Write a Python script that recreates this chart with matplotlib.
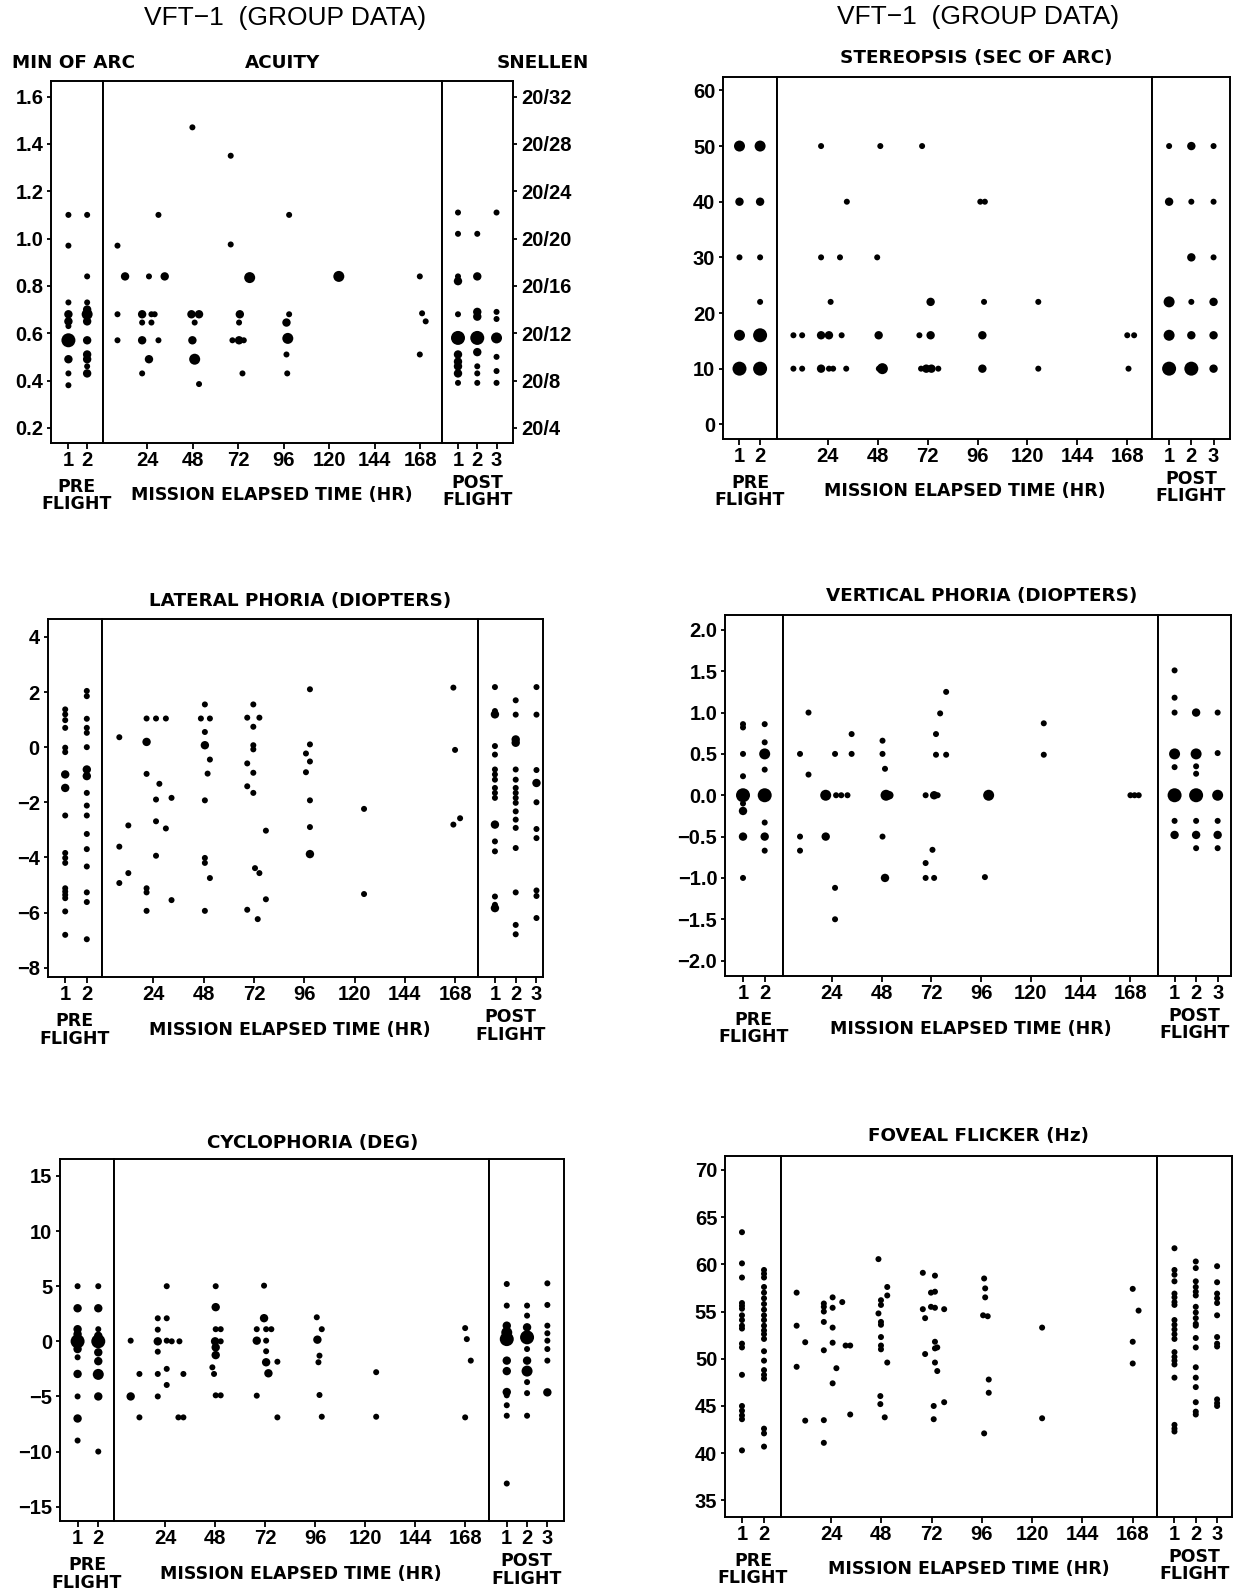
import matplotlib
matplotlib.use("Agg")
import matplotlib.pyplot as plt
from matplotlib import font_manager

# points are (position, value) or (position, value, count); count sets the dot size
# pre/post positions are session numbers, mission positions are elapsed hours

acuity_pre = [
    (1, 1.10), (1, 0.97), (1, 0.73), (1, 0.68, 2), (1, 0.65, 2), (1, 0.63), (1, 0.57, 4),
    (1, 0.49, 2), (1, 0.43), (1, 0.38),
    (2, 1.10), (2, 0.84), (2, 0.73), (2, 0.70, 2), (2, 0.68, 3), (2, 0.65, 2), (2, 0.57, 2),
    (2, 0.51, 2), (2, 0.49, 2), (2, 0.46), (2, 0.43, 2)]
acuity_mission = [
    (8.4, 0.97), (8.4, 0.68), (8.4, 0.57), (12.4, 0.84, 2),
    (21.4, 0.68, 2), (21.4, 0.645), (21.4, 0.57, 2), (21.4, 0.43), (25.0, 0.84), (25.0, 0.49, 2),
    (26.3, 0.68), (26.3, 0.645), (28.0, 0.68), (30.0, 1.10), (30.0, 0.57), (33.3, 0.84, 2),
    (47.9, 1.47), (47.4, 0.68, 2), (51.4, 0.68, 2), (49.1, 0.645), (47.9, 0.57, 2), (49.1, 0.49, 3),
    (51.4, 0.385),
    (68.1, 1.35), (68.1, 0.975), (72.9, 0.68, 2), (72.5, 0.645), (69.0, 0.57), (72.5, 0.57, 2),
    (75.0, 0.57), (74.3, 0.43), (78.1, 0.835, 3),
    (98.9, 1.10), (98.9, 0.68), (97.5, 0.645, 2), (98.2, 0.578, 3), (97.5, 0.51), (97.9, 0.43),
    (125.1, 0.84, 3),
    (167.8, 0.84), (167.8, 0.51), (169.0, 0.684), (170.9, 0.65)]
acuity_post = [
    (1, 1.11), (1, 1.02), (1, 0.84), (1, 0.82, 2), (1, 0.68), (1, 0.58, 4), (1, 0.51, 2),
    (1, 0.48, 2), (1, 0.46, 2), (1, 0.43, 2), (1, 0.39),
    (2, 1.02), (2, 0.84, 2), (2, 0.69, 2), (2, 0.67, 2), (2, 0.58, 4), (2, 0.52, 2), (2, 0.46),
    (2, 0.43), (2, 0.39),
    (3, 1.11), (3, 0.69), (3, 0.66), (3, 0.58, 3), (3, 0.50), (3, 0.44), (3, 0.39)]

stereo_pre = [
    (1, 50, 3), (1, 40, 2), (1, 30), (1, 16, 3), (1, 10, 4),
    (2, 50, 3), (2, 40, 2), (2, 30), (2, 22), (2, 16, 4), (2, 10, 4)]
stereo_mission = [
    (7.4, 16), (7.4, 10), (11.6, 16), (11.6, 10),
    (20.7, 50), (20.7, 30), (20.7, 16, 2), (20.7, 10, 2), (24.5, 16, 2), (25.3, 22), (24.5, 10),
    (26.5, 10), (29.8, 30), (33.1, 40), (30.6, 16), (32.8, 10),
    (47.7, 30), (48.4, 16, 2), (49.2, 50), (50.2, 10, 3), (48.5, 10),
    (68.0, 16), (69.3, 50), (73.4, 22, 2), (73.4, 16, 2), (68.8, 10), (71.3, 10, 2), (73.8, 10, 2),
    (77.1, 10),
    (97.3, 40), (99.5, 40), (99.1, 22), (98.3, 16, 2), (98.3, 10, 2),
    (125.2, 22), (125.2, 10),
    (168.0, 16), (171.3, 16), (168.6, 10)]
stereo_post = [
    (1, 50), (1, 40, 2), (1, 22, 3), (1, 16, 3), (1, 10, 4),
    (2, 50, 2), (2, 40), (2, 30, 2), (2, 22), (2, 16, 2), (2, 10, 4),
    (3, 50), (3, 40), (3, 30), (3, 22, 2), (3, 16, 2), (3, 10, 2)]

lateral_pre = [
    (1, 1.37), (1, 1.19), (1, 0.98), (1, 0.70), (1, -0.02), (1, -0.18), (1, -0.99, 2),
    (1, -1.48, 2), (1, -2.48), (1, -3.84), (1, -4.02), (1, -4.20), (1, -5.12), (1, -5.24),
    (1, -5.36), (1, -5.48), (1, -5.96), (1, -6.81),
    (2, 2.04), (2, 1.85), (2, 1.03), (2, 0.70), (2, 0.52), (2, 0.00), (2, -0.81, 2),
    (2, -1.05, 2), (2, -1.66), (2, -2.12), (2, -2.48), (2, -3.15), (2, -3.70), (2, -4.33),
    (2, -5.27), (2, -5.62), (2, -6.97)]
lateral_mission = [
    (7.8, 0.36), (7.8, -3.61), (7.8, -4.93), (12.1, -2.84), (12.1, -4.57),
    (20.8, 1.04), (20.8, 0.19, 2), (20.8, -0.97), (20.8, -5.12), (20.8, -5.27), (20.8, -5.94),
    (25.3, 1.04), (25.3, -1.90), (25.3, -2.69), (25.3, -3.94), (26.9, -1.33), (30.0, 1.04),
    (30.0, -2.95), (32.7, -1.84), (32.7, -5.55),
    (48.6, 1.55), (48.6, 0.55), (48.6, 0.07, 2), (48.6, -1.93), (48.6, -4.02), (48.6, -4.20),
    (48.6, -5.94), (46.7, 1.04), (51.0, 1.04), (51.0, -0.45), (51.0, -4.75), (49.9, -0.96),
    (71.7, 1.55), (71.7, 0.74), (71.7, 0.07), (71.7, -0.08), (71.7, -0.93), (71.7, -1.66),
    (68.8, 1.07), (68.8, -0.59), (68.8, -1.42), (68.8, -5.90), (74.6, 1.07), (74.6, -4.57),
    (72.5, -4.39), (77.7, -3.03), (77.7, -5.52), (73.8, -6.24),
    (98.7, 2.10), (98.7, 0.10), (98.7, -1.93), (98.7, -2.90), (98.7, -3.88, 2), (96.8, -0.23),
    (96.8, -0.91), (98.7, -0.52),
    (124.5, -2.24), (124.5, -5.33),
    (167.1, 2.16), (167.1, -2.81), (167.9, -0.10), (170.3, -2.58)]
lateral_post = [
    (1, 2.18), (1, 1.31), (1, 1.19, 2), (1, 0.04), (1, -0.27), (1, -0.81), (1, -0.99),
    (1, -1.18), (1, -1.48), (1, -1.66), (1, -1.84), (1, -2.81, 2), (1, -3.42), (1, -3.78),
    (1, -5.42), (1, -5.72), (1, -5.84, 2),
    (2, 1.70), (2, 1.18), (2, 0.28, 2), (2, 0.16, 2), (2, -0.81), (2, -1.18), (2, -1.48),
    (2, -1.66), (2, -1.84), (2, -2.02), (2, -2.33), (2, -2.63), (2, -2.93), (2, -3.66),
    (2, -5.27), (2, -6.45), (2, -6.79),
    (3, 2.18), (3, 1.18), (3, -0.83), (3, -1.30, 2), (3, -2.00), (3, -2.97), (3, -3.30),
    (3, -5.20), (3, -5.40), (3, -6.20)]

vert_pre = [
    (1, 0.86), (1, 0.82), (1, 0.50), (1, 0.23), (1, 0.00, 4), (1, -0.10), (1, -0.19, 2),
    (1, -0.50, 2), (1, -1.00),
    (2, 0.86), (2, 0.64), (2, 0.50, 3), (2, 0.31), (2, 0.00, 4), (2, -0.33), (2, -0.50, 2),
    (2, -0.67)]
vert_mission = [
    (8.6, 0.50), (8.6, -0.50), (8.6, -0.67), (12.7, 1.00), (12.7, 0.25),
    (21.0, 0.00, 3), (21.0, -0.50, 2), (25.5, 0.50), (25.5, -1.12), (25.5, -1.50), (26.0, 0.00),
    (28.5, 0.00), (31.5, 0.00), (33.5, 0.74), (33.5, 0.50),
    (48.4, 0.66), (48.4, 0.50), (49.6, 0.32), (50.1, 0.00, 3), (51.7, 0.00, 2), (48.4, -0.50),
    (49.6, -1.00, 2),
    (69.2, 0.00), (69.2, -0.82), (69.2, -1.00), (72.5, -0.66), (73.3, -1.00), (74.2, 0.74),
    (74.2, 0.49), (73.3, 0.00, 2), (75.0, 0.00), (76.2, 0.99), (79.1, 1.25), (79.1, 0.49),
    (99.6, 0.00, 3), (97.8, -0.99),
    (126.2, 0.87), (126.2, 0.49),
    (168.0, 0.00), (170.0, 0.00), (172.0, 0.00)]
vert_post = [
    (1, 1.51), (1, 1.18), (1, 1.00), (1, 0.50, 3), (1, 0.34), (1, 0.00, 4), (1, -0.31),
    (1, -0.48, 2),
    (2, 1.00, 2), (2, 0.50, 3), (2, 0.35), (2, 0.26), (2, 0.00, 4), (2, -0.31), (2, -0.48, 2),
    (2, -0.64),
    (3, 1.00), (3, 0.51), (3, 0.00, 3), (3, -0.31), (3, -0.48, 2), (3, -0.64)]

cyclo_pre = [
    (1, 5.0), (1, 3.0, 2), (1, 1.1, 2), (1, 0.65, 2), (1, 0.0, 4), (1, -0.7, 2), (1, -1.45),
    (1, -2.96, 2), (1, -5.0), (1, -7.0, 2), (1, -9.0),
    (2, 5.0), (2, 3.0, 2), (2, 1.1), (2, 0.5, 2), (2, 0.0, 4), (2, -1.0, 2), (2, -1.8, 2),
    (2, -3.0, 3), (2, -5.0, 2), (2, -10.0)]
cyclo_mission = [
    (7.5, 0.06), (7.5, -5.0, 2), (11.7, -2.96), (11.7, -6.9),
    (20.5, 2.09), (20.5, 1.06), (20.5, 0.0, 2), (20.5, -0.94), (20.5, -2.96), (20.5, -5.0),
    (24.8, 5.0), (24.8, 2.09), (24.8, 0.06), (24.8, -2.5), (24.8, -3.96), (27.2, 0.0),
    (30.9, 0.0), (32.8, -2.96), (30.4, -6.9), (32.8, -6.9),
    (48.3, 5.0), (48.3, 3.1, 2), (48.3, 1.1), (50.7, 1.1), (48.0, 0.0, 2), (50.7, 0.0),
    (48.3, -0.55, 2), (48.3, -1.25, 2), (46.7, -2.36), (47.5, -2.96), (48.3, -4.9), (50.7, -4.9),
    (71.5, 5.05), (71.5, 2.1, 2), (68.0, 1.1), (72.5, 1.1), (75.0, 1.1), (68.0, 0.06, 2),
    (72.5, 0.06), (72.5, -0.9), (72.5, -1.9, 2), (77.9, -1.85), (73.6, -2.9, 2), (68.0, -4.93),
    (77.9, -6.9),
    (96.8, 2.18), (99.2, 1.1), (97.1, 0.15, 2), (98.1, -1.3), (97.6, -1.9), (98.1, -4.87),
    (99.2, -6.84),
    (125.3, -2.8), (125.3, -6.84),
    (168.0, 1.2), (168.8, 0.2), (170.7, -1.75), (168.0, -6.9)]
cyclo_post = [
    (1, 5.2), (1, 3.24), (1, 1.42, 2), (1, 0.8, 3), (1, 0.2, 4), (1, -1.75, 2), (1, -2.7, 2),
    (1, -4.6, 2), (1, -4.9), (1, -5.8), (1, -6.75), (1, -12.9),
    (2, 3.24), (2, 2.33), (2, 1.27, 2), (2, 0.36, 4), (2, -0.7), (2, -1.75, 2), (2, -2.7, 3),
    (2, -3.7), (2, -4.7), (2, -6.75),
    (3, 5.26), (3, 3.3), (3, 1.42), (3, 0.73), (3, 0.06), (3, -0.7), (3, -1.75), (3, -4.63, 2)]

flicker_pre = [
    (1, 63.4), (1, 60.1), (1, 58.6), (1, 55.9), (1, 55.6), (1, 55.3), (1, 54.6), (1, 54.1),
    (1, 53.5), (1, 53.2), (1, 51.6), (1, 51.2), (1, 48.3), (1, 45.0), (1, 44.5), (1, 44.0),
    (1, 43.6), (1, 40.3),
    (2, 59.4), (2, 59.0), (2, 58.6), (2, 57.6), (2, 57.0), (2, 56.4), (2, 55.8), (2, 55.2),
    (2, 54.6), (2, 54.1), (2, 53.5), (2, 53.0), (2, 52.6), (2, 52.1), (2, 50.8), (2, 49.8),
    (2, 48.8), (2, 48.3), (2, 47.9), (2, 42.6), (2, 42.1), (2, 40.7)]
flicker_mission = [
    (7.5, 57.0), (7.5, 53.5), (7.5, 49.15), (11.6, 51.75), (11.6, 43.45),
    (20.5, 55.85), (20.5, 55.5), (20.5, 55.0), (20.5, 53.9), (20.5, 50.9), (20.5, 43.5),
    (20.5, 41.1), (24.7, 56.5), (24.7, 55.4), (24.7, 53.3), (24.7, 51.7), (24.7, 47.4),
    (26.5, 49.0), (29.3, 56.0), (30.9, 51.4), (33.1, 51.4), (33.1, 44.1),
    (46.6, 60.55), (46.6, 54.8), (47.8, 56.2), (47.8, 55.7), (47.8, 53.9), (47.8, 53.6),
    (47.8, 52.3), (47.8, 51.4), (47.8, 51.0), (50.8, 57.6), (50.8, 56.7), (50.8, 49.6),
    (47.5, 46.05), (47.5, 45.2), (49.6, 43.8),
    (67.8, 59.1), (67.8, 55.25), (68.9, 54.3), (68.9, 50.5), (73.6, 58.8), (73.6, 57.1),
    (73.6, 55.4), (73.6, 51.8), (73.6, 51.1), (73.6, 49.6), (74.7, 48.7), (71.7, 57.0),
    (71.7, 55.5), (74.7, 51.2), (73.0, 45.0), (73.0, 43.6), (78.0, 55.25), (78.0, 45.4),
    (97.1, 58.5), (97.6, 57.45), (97.6, 56.5), (96.6, 54.6), (98.8, 54.5), (99.3, 47.8),
    (99.3, 46.4), (97.1, 42.1),
    (124.8, 53.3), (124.8, 43.7),
    (168.1, 57.4), (168.1, 51.8), (168.1, 49.5), (170.9, 55.1)]
flicker_post = [
    (1, 61.7), (1, 59.4), (1, 58.9), (1, 58.2), (1, 56.9), (1, 56.5), (1, 56.0), (1, 55.7),
    (1, 54.1), (1, 53.6), (1, 53.1), (1, 52.6), (1, 52.1), (1, 50.7), (1, 50.2), (1, 49.8),
    (1, 49.4), (1, 48.0), (1, 43.0), (1, 42.6), (1, 42.3),
    (2, 60.3), (2, 59.6), (2, 58.2), (2, 57.6), (2, 57.1), (2, 56.7), (2, 55.5), (2, 54.9),
    (2, 54.3), (2, 53.7), (2, 53.5), (2, 52.2), (2, 51.2), (2, 49.1), (2, 48.0), (2, 47.0),
    (2, 45.4), (2, 44.4), (2, 44.1),
    (3, 59.8), (3, 58.1), (3, 56.9), (3, 56.4), (3, 55.9), (3, 54.6), (3, 52.3), (3, 51.6),
    (3, 51.3), (3, 45.7), (3, 45.3), (3, 45.0)]

acuity_ticks = [0.2, 0.4, 0.6, 0.8, 1.0, 1.2, 1.4, 1.6]
snellen_labels = ["20/4", "20/8", "20/12", "20/16", "20/20", "20/24", "20/28", "20/32"]
stereo_ticks = [0, 10, 20, 30, 40, 50, 60]
lateral_ticks = [-8, -6, -4, -2, 0, 2, 4]
vert_ticks = [-2.0, -1.5, -1.0, -0.5, 0.0, 0.5, 1.0, 1.5, 2.0]
cyclo_ticks = [-15, -10, -5, 0, 5, 10, 15]
flicker_ticks = [35, 40, 45, 50, 55, 60, 65, 70]
mission_ticks = [24, 48, 72, 96, 120, 144, 168]

W, H = 1241, 1594
names = {f.name for f in font_manager.fontManager.ttflist}
if "Liberation Sans Narrow" in names:
    NARROW, NS = "Liberation Sans Narrow", 1.0
else:
    NARROW, NS = "DejaVu Sans", 0.78
PLAIN = "Liberation Sans" if "Liberation Sans" in names else "DejaVu Sans"
plt.rcParams["font.family"] = [PLAIN, "DejaVu Sans"]

DOT_PX = {1: 6.0, 2: 8.4, 3: 11.0, 4: 14.0}
TICK_PT = 14.5

fig = plt.figure(figsize=(W / 100, H / 100), dpi=100)


def fx(px):
    return px / W


def fy(py):
    return 1 - py / H


def panel(box, xlims, ylim, yticks, ylabels, pre, mission, post, right_labels=None):
    left, sep1, sep2, right, top, bottom = box
    spans = [(left, sep1), (sep1, sep2), (sep2, right)]
    xticks = [[1, 2], mission_ticks, [1, 2, 3]]
    axs = []
    for (x0, x1), xl, tk, pts in zip(spans, xlims, xticks, [pre, mission, post]):
        ax = fig.add_axes([fx(x0), fy(bottom), (x1 - x0) / W, (bottom - top) / H])
        ax.set_xlim(*xl)
        ax.set_ylim(*ylim)
        ax.set_xticks(tk)
        ax.set_xticklabels([str(t) for t in tk], fontweight="bold")
        ax.set_yticks(yticks)
        ax.tick_params(axis="x", direction="out", length=4.5, width=1.3, pad=1.5,
                       labelsize=TICK_PT)
        ax.tick_params(axis="y", left=False, labelleft=False)
        for sp in ax.spines.values():
            sp.set_linewidth(1.4)
        ax.scatter([p[0] for p in pts], [p[1] for p in pts],
                   s=[(DOT_PX[p[2] if len(p) > 2 else 1] * 0.72) ** 2 for p in pts],
                   c="black", linewidths=0, zorder=3)
        axs.append(ax)
    axs[0].tick_params(axis="y", left=True, labelleft=True, direction="out",
                       length=3, width=1.3, pad=2.5, labelsize=TICK_PT)
    axs[0].set_yticklabels(ylabels, fontweight="bold")
    if right_labels:
        axs[2].tick_params(axis="y", right=True, labelright=True, direction="out",
                           length=3, width=1.3, pad=2.5, labelsize=TICK_PT)
        axs[2].set_yticklabels(right_labels, fontweight="bold")
    lab = dict(family=[NARROW, "DejaVu Sans"], fontsize=16 * NS, fontweight="bold",
               ha="center", va="center", linespacing=0.95)
    fig.text(fx((left + sep1) / 2), fy(bottom + 53), "PRE\nFLIGHT", **lab)
    fig.text(fx((sep1 + sep2) / 2), fy(bottom + 53), "MISSION ELAPSED TIME (HR)", **lab)
    fig.text(fx((sep2 + right) / 2), fy(bottom + 49), "POST\nFLIGHT", **lab)
    return axs


def label(x, y, s, **kw):
    opts = dict(family=[NARROW, "DejaVu Sans"], fontsize=17 * NS, fontweight="bold",
                ha="center", va="center")
    opts.update(kw)
    fig.text(fx(x), fy(y), s, **opts)


def dec(ticks):
    return [("%.1f" % t).replace("-", "\u2212") for t in ticks]


def whole(ticks):
    return [str(t).replace("-", "\u2212") for t in ticks]


# acuity
panel((51, 102.5, 442, 513.3, 80.5, 442.5),
      [(0.07, 2.82), (0.5, 179.5), (0.17, 3.87)], (0.138, 1.668),
      acuity_ticks, dec(acuity_ticks), acuity_pre, acuity_mission, acuity_post,
      right_labels=snellen_labels)
# stereopsis
panel((723, 777, 1152, 1230, 76.5, 438.5),
      [(0.2, 2.82), (-0.5, 179.9), (0.23, 3.74)], (-2.55, 62.5),
      stereo_ticks, whole(stereo_ticks), stereo_pre, stereo_mission, stereo_post)
# lateral phoria
panel((47.5, 101.7, 477.7, 542.5, 619, 977),
      [(0.18, 2.69), (-0.6, 178.7), (0.17, 3.29)], (-8.34, 4.65),
      lateral_ticks, whole(lateral_ticks), lateral_pre, lateral_mission, lateral_post)
# vertical phoria
panel((725, 782.7, 1158, 1231, 615, 975.5),
      [(0.17, 2.83), (0.25, 181.3), (0.23, 3.62)], (-2.18, 2.18),
      vert_ticks, dec(vert_ticks), vert_pre, vert_mission, vert_post)
# cyclophoria
panel((60, 114, 488.5, 564, 1159, 1521),
      [(0.15, 2.76), (-0.5, 179.2), (0.1, 3.82)], (-16.3, 16.54),
      cyclo_ticks, whole(cyclo_ticks), cyclo_pre, cyclo_mission, cyclo_post)
# foveal flicker
panel((725, 781, 1157, 1232, 1155.5, 1516.5),
      [(0.23, 2.77), (0.03, 179.7), (0.18, 3.7)], (33.3, 71.52),
      flicker_ticks, whole(flicker_ticks), flicker_pre, flicker_mission, flicker_post)

big = dict(family=[PLAIN, "DejaVu Sans"], fontsize=19, fontweight="normal")
label(285, 18, "VFT\u22121  (GROUP DATA)", **big)
label(978, 17, "VFT\u22121  (GROUP DATA)", **big)
label(12, 63.5, "MIN OF ARC", ha="left")
label(282.6, 63.5, "ACUITY")
label(589.5, 63.5, "SNELLEN", ha="right")
label(976, 58, "STEREOPSIS (SEC OF ARC)")
label(300, 600.7, "LATERAL PHORIA (DIOPTERS)")
label(982, 595.6, "VERTICAL PHORIA (DIOPTERS)")
label(312.5, 1142.5, "CYCLOPHORIA (DEG)")
label(978, 1136, "FOVEAL FLICKER (Hz)")

fig.savefig("out.png", dpi=100)
